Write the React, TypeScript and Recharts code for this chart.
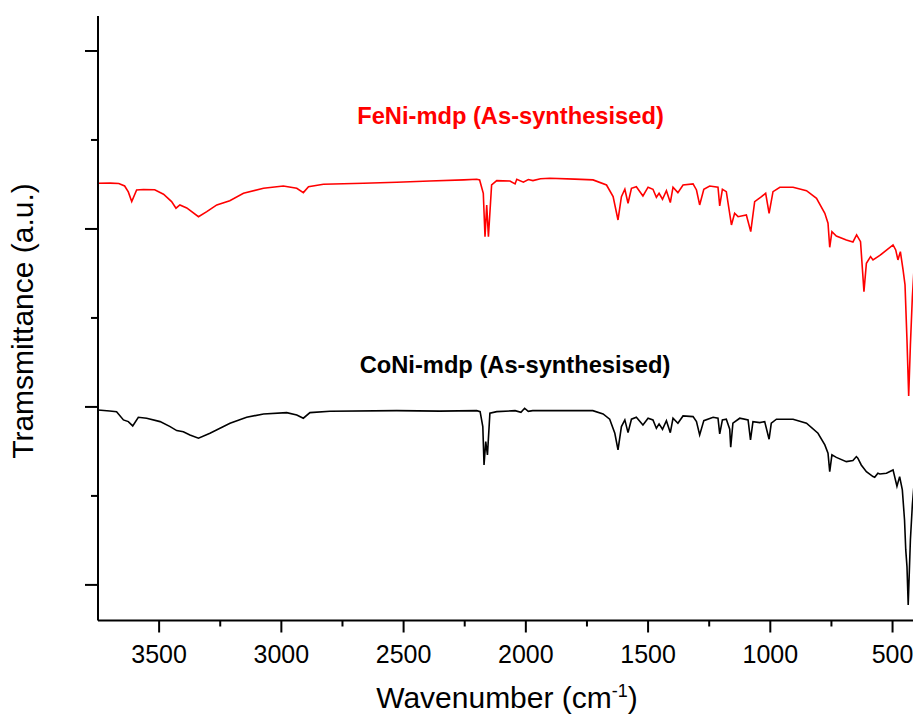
import React from 'react';
import { LineChart, Line, XAxis, YAxis } from 'recharts';

// FeNi-mdp (As-synthesised) — red spectrum
const feNiWavenumber = [
  3750, 3700, 3665, 3641, 3626, 3612, 3592, 3564, 3518, 3482, 3449, 3431, 3415, 3387, 3339, 3305, 3264, 3211,
  3155, 3073, 2992, 2937, 2910, 2889, 2828, 2664, 2528, 2393, 2254, 2201, 2189, 2174, 2167, 2160, 2153, 2140,
  2119, 2065, 2044, 2037, 2010, 1990, 1971, 1940, 1902, 1800, 1725, 1670, 1643, 1623, 1609, 1595, 1582, 1568,
  1548, 1521, 1500, 1480, 1466, 1455, 1441, 1425, 1409, 1398, 1378, 1357, 1316, 1302, 1289, 1272, 1248, 1214,
  1207, 1196, 1180, 1159, 1146, 1132, 1098, 1080, 1064, 1036, 1019, 1005, 989, 961, 907, 852, 811, 777, 764,
  757, 748, 730, 689, 662, 647, 631, 623, 617, 607, 590, 580, 552, 498, 487, 478, 468, 457, 449, 441, 434, 427,
  419, 410, 400,
];
const feNiTransmittance = [
  45.13, 45.15, 45.1, 44.83, 44.16, 43.07, 44.38, 44.44, 44.4, 43.9, 43.07, 42.33, 42.7, 42.36, 41.38, 41.94, 42.7, 43.18,
  44.01, 44.57, 44.83, 44.57, 44.08, 44.75, 45.02, 45.13, 45.25, 45.39, 45.51, 45.58, 45.51, 44.01, 39.13, 42.7, 39.13, 44.94,
  45.43, 45.39, 45.06, 45.58, 45.25, 45.55, 45.43, 45.65, 45.7, 45.6, 45.51, 44.94, 43.63, 41.01, 43.63, 44.46, 42.89, 44.57,
  44.75, 43.71, 44.69, 44.46, 43.56, 44.01, 43.34, 44.3, 42.96, 44.69, 44.08, 44.94, 45.06, 44.38, 42.7, 44.46, 44.83, 44.69,
  42.58, 44.46, 44.19, 40.45, 41.76, 41.38, 41.57, 39.7, 43.07, 43.63, 44.01, 41.76, 44.19, 44.69, 44.69, 44.3, 43.45, 41.76, 40.64,
  37.94, 39.7, 39.21, 38.76, 38.54, 39.33, 38.57, 35.39, 32.96, 36.15, 36.89, 36.52, 37.02, 38.2, 37.64, 36.52, 37.45, 35.39, 33.71, 27.53, 21.24, 26.97,
  32.36, 36.5, 38,
];

// CoNi-mdp (As-synthesised) — black spectrum
const coNiWavenumber = [
  3750, 3702, 3674, 3646, 3626, 3608, 3585, 3551, 3496, 3455, 3428, 3401, 3374, 3339, 3292, 3210, 3142, 3073,
  2978, 2937, 2910, 2883, 2801, 2528, 2352, 2201, 2187, 2176, 2171, 2164, 2157, 2147, 2119, 2044, 2020, 2005,
  1990, 1972, 1726, 1684, 1657, 1636, 1623, 1609, 1595, 1582, 1568, 1548, 1521, 1500, 1480, 1466, 1455, 1441,
  1425, 1409, 1398, 1378, 1357, 1316, 1302, 1289, 1272, 1234, 1214, 1207, 1196, 1180, 1166, 1162, 1153, 1125,
  1091, 1081, 1071, 1043, 1023, 1005, 996, 975, 907, 852, 805, 777, 764, 757, 748, 730, 689, 662, 648, 642,
  628, 607, 580, 573, 560, 552, 525, 498, 482, 471, 460, 451, 446, 441, 436, 427, 419, 410, 400,
];
const coNiTransmittance = [
  19.66, 19.55, 19.47, 18.54, 18.35, 17.87, 18.84, 18.73, 18.35, 17.79, 17.34, 17.22, 16.85, 16.48, 17.04, 18.17, 18.84, 19.21,
  19.36, 19.1, 18.73, 19.36, 19.52, 19.58, 19.53, 19.58, 19.47, 17.79, 13.48, 16.1, 14.61, 19.29, 19.47, 19.58, 19.4, 19.85,
  19.5, 19.58, 19.58, 19.21, 18.62, 17.04, 15.17, 17.79, 18.54, 17.11, 18.62, 18.84, 17.98, 18.73, 18.54, 17.61, 18.09, 17.49,
  18.46, 17.11, 18.73, 18.17, 18.99, 18.91, 18.35, 16.85, 18.46, 18.84, 18.73, 16.97, 18.54, 18.62, 17.49, 15.47, 18.17, 18.73,
  18.54, 16.29, 18.35, 18.24, 18.35, 16.37, 18.17, 18.62, 18.62, 18.17, 17.04, 15.73, 14.8, 12.73, 14.61, 14.33, 13.85, 13.97, 14.42, 14.24,
  13.48, 12.73, 12.17, 12.1, 12.55, 12.47, 12.55, 12.92, 11.09, 12.17, 10.67, 7.3, 3.93, 2.06, -2.25, 5.06, 8.99, 12, 14,
];

const xTickValues = [3500, 3250, 3000, 2750, 2500, 2250, 2000, 1750, 1500, 1250, 1000, 750, 500];
const xMajorTickValues = [3500, 3000, 2500, 2000, 1500, 1000, 500];
const yTickValues = [0, 10, 20, 30, 40, 50, 60];
const yMajorTickValues = [0, 20, 40, 60];
const xDomain = [400, 3750];
const yDomain = [-4, 63.93];

const feNiData = feNiWavenumber.map((w, i) => ({ w, v: feNiTransmittance[i] }));
const coNiData = coNiWavenumber.map((w, i) => ({ w, v: coNiTransmittance[i] }));

const FONT = '"Liberation Sans", Arial, Helvetica, sans-serif';

const XTick = (props: any) => {
  const { x, y, payload } = props;
  const major = xMajorTickValues.includes(payload.value);
  return (
    <g>
      <line x1={x} x2={x} y1={y} y2={y + (major ? 12 : 6)} stroke="#000" strokeWidth={2} />
      {major && (
        <text x={x} y={y + 42.5} textAnchor="middle" fontSize={25} fontFamily={FONT} fill="#000">
          {payload.value}
        </text>
      )}
    </g>
  );
};

const YTick = (props: any) => {
  const { x, y, payload } = props;
  const major = yMajorTickValues.includes(payload.value);
  return <line x1={x - (major ? 13 : 7)} x2={x} y1={y} y2={y} stroke="#000" strokeWidth={2} />;
};

export default function App() {
  return (
    <div style={{ position: 'absolute', left: 0, top: 0, width: 913, height: 720, overflow: 'hidden', background: '#fff' }}>
      <LineChart width={917} height={720} margin={{ top: 16, right: 0, bottom: 0, left: 0 }}>
        <XAxis
          dataKey="w"
          type="number"
          domain={xDomain}
          reversed
          allowDataOverflow
          ticks={xTickValues}
          interval={0}
          tick={(p: any) => <XTick {...p} />}
          tickLine={false}
          tickSize={0}
          tickMargin={0}
          height={99.5}
          axisLine={{ stroke: '#000', strokeWidth: 2 }}
        />
        <YAxis
          type="number"
          domain={yDomain}
          allowDataOverflow
          ticks={yTickValues}
          interval={0}
          tick={(p: any) => <YTick {...p} />}
          tickLine={false}
          tickSize={0}
          tickMargin={0}
          width={98}
          axisLine={{ stroke: '#000', strokeWidth: 2 }}
        />
        <Line data={feNiData} dataKey="v" type="linear" stroke="#ff0000" strokeWidth={1.6} dot={false} isAnimationActive={false} />
        <Line data={coNiData} dataKey="v" type="linear" stroke="#000000" strokeWidth={1.6} dot={false} isAnimationActive={false} />
      </LineChart>
      <svg width={913} height={720} style={{ position: 'absolute', left: 0, top: 0, pointerEvents: 'none' }}>
        <text x={510.5} y={124} textAnchor="middle" fontSize={23.7} fontWeight="bold" fontFamily={FONT} fill="#ff0000">
          FeNi-mdp (As-synthesised)
        </text>
        <text x={515} y={373} textAnchor="middle" fontSize={23.7} fontWeight="bold" fontFamily={FONT} fill="#000">
          CoNi-mdp (As-synthesised)
        </text>
        <text x={33} y={321} transform="rotate(-90 33 321)" textAnchor="middle" fontSize={30} fontFamily={FONT} fill="#000">
          Tramsmittance (a.u.)
        </text>
        <text x={507} y={708} textAnchor="middle" fontSize={30} fontFamily={FONT} fill="#000">
          Wavenumber (cm
          <tspan fontSize={18} dy={-11}>-1</tspan>
          <tspan dy={11}>)</tspan>
        </text>
      </svg>
    </div>
  );
}
